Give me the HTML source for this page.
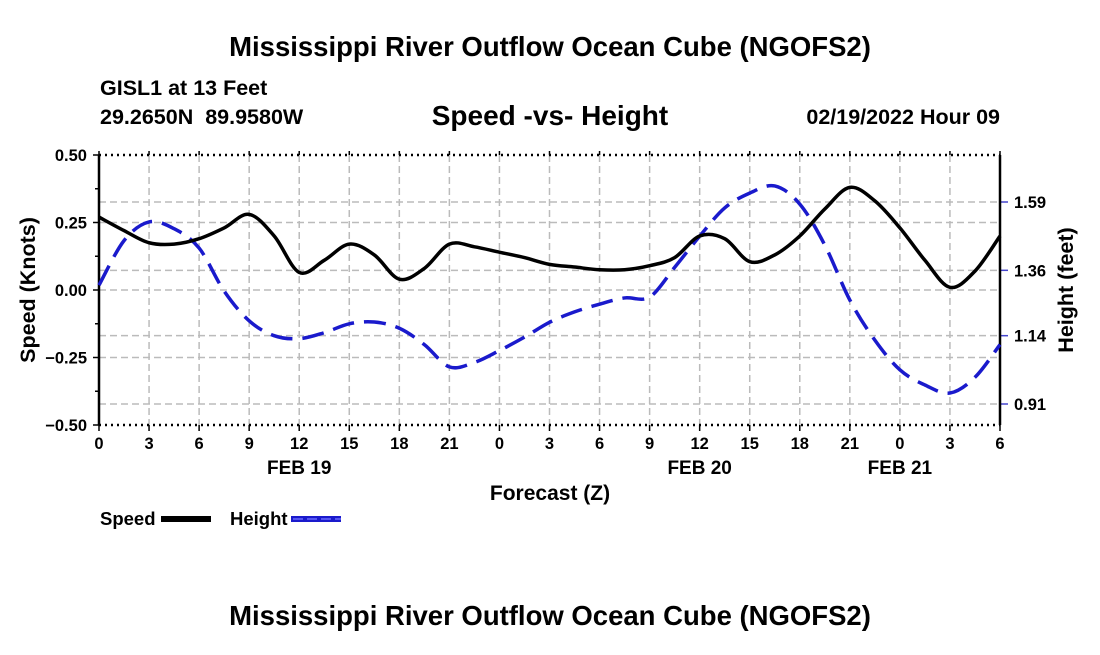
<!DOCTYPE html>
<html><head><meta charset="utf-8"><style>
html,body{margin:0;padding:0;background:#fff;}
svg text{font-family:"Liberation Sans",Arial,sans-serif;font-weight:bold;fill:#000;}
</style></head><body>
<svg id="chart" width="1100" height="650" viewBox="0 0 1100 650" xmlns="http://www.w3.org/2000/svg">
<text x="550" y="56" font-size="27.5" text-anchor="middle">Mississippi River Outflow Ocean Cube (NGOFS2)</text>
<text x="100" y="95" font-size="21.5">GISL1 at 13 Feet</text>
<text x="100" y="124" font-size="21.5" xml:space="preserve">29.2650N  89.9580W</text>
<text x="550" y="125" font-size="28" text-anchor="middle">Speed -vs- Height</text>
<text x="1000" y="124" font-size="21.5" text-anchor="end">02/19/2022 Hour 09</text>
<g id="grid"></g>
<g id="axes"></g>
<g id="series"></g>
<text transform="translate(35,290) rotate(-90)" font-size="21.5" text-anchor="middle">Speed (Knots)</text>
<text transform="translate(1073,290) rotate(-90)" font-size="21.5" text-anchor="middle">Height (feet)</text>
<text x="550" y="500" font-size="21" text-anchor="middle">Forecast (Z)</text>
<g>
<text x="100" y="525" font-size="18.5">Speed</text>
<rect x="161" y="516" width="50" height="6" fill="#000"/>
<text x="230" y="525" font-size="18.5">Height</text>
<rect x="291" y="516" width="50" height="6" fill="#1a1acc"/>
<line x1="293" y1="519" x2="341" y2="519" stroke="#6a6aff" stroke-width="1.5" stroke-dasharray="10,4"/>
</g>
<text x="550" y="625" font-size="27.5" text-anchor="middle">Mississippi River Outflow Ocean Cube (NGOFS2)</text>
</svg>
<script>
const hours = [0,1.5,3,4.5,6,7.5,9,10.5,12,13.5,15,16.5,18,19.5,21,22.5,24,25.5,27,28.5,30,31.5,33,34.5,36,37.5,39,40.5,42,43.5,45,46.5,48,49.5,51,52.5,54];
const speed = [0.27,0.22,0.175,0.17,0.19,0.23,0.28,0.2,0.065,0.11,0.17,0.13,0.04,0.08,0.17,0.16,0.14,0.12,0.095,0.085,0.075,0.075,0.09,0.12,0.2,0.19,0.105,0.13,0.2,0.3,0.38,0.33,0.23,0.11,0.01,0.07,0.2];
const height = [1.31,1.46,1.523,1.5,1.435,1.29,1.19,1.14,1.13,1.15,1.18,1.186,1.165,1.11,1.035,1.05,1.09,1.135,1.185,1.22,1.246,1.267,1.27,1.37,1.475,1.57,1.62,1.644,1.583,1.445,1.26,1.125,1.025,0.974,0.947,1.0,1.11];
const xTickLabels = ["0","3","6","9","12","15","18","21","0","3","6","9","12","15","18","21","0","3","6"];
const speedTicks = [0.5,0.25,0,-0.25,-0.5];
const speedTickLabels = ["0.50","0.25","0.00","\u22120.25","\u22120.50"];
const heightTicks = [1.59,1.36,1.14,0.91];
const dayLabels = ["FEB 19","FEB 20","FEB 21"];
const dayLabelHours = [12,36,48];

const X0=99,X1=1000,Y0=155,Y1=425;
const xs=h=>X0+(X1-X0)*h/54;
const ys=s=>Y0+(0.5-s)*(Y1-Y0);
const yh=h=>202+(1.59-h)*(404-202)/(1.59-0.91);
const NS='http://www.w3.org/2000/svg';
function mk(tag,parent,attrs){const e=document.createElementNS(NS,tag);for(const k in attrs)e.setAttribute(k,attrs[k]);parent.appendChild(e);return e;}
const grid=document.getElementById('grid'),axes=document.getElementById('axes'),series=document.getElementById('series');
xTickLabels.forEach((l,i)=>{const x=xs(i*3);
 if(i>0&&i<18){const g=mk('line',grid,{x1:x,y1:Y0,x2:x,y2:Y1,stroke:'#bbb','stroke-width':1.5,'stroke-dasharray':'7,4'});
 
 }
 const t=mk('line',axes,{x1:x,y1:Y1,x2:x,y2:Y1+6,stroke:'#000','stroke-width':1.5});
 
 
 const tt=mk('text',axes,{x:x,y:Y1+24,'font-size':16.5,'text-anchor':'middle'});tt.textContent=l;
 
 
 const t2=mk('line',axes,{x1:x,y1:Y0-4,x2:x,y2:Y0,stroke:'#000','stroke-width':1.5});
 
 
});
dayLabels.forEach((d,i)=>{const t=mk('text',axes,{x:xs(dayLabelHours[i]),y:474,'font-size':19,'text-anchor':'middle'});t.textContent=d;
 
 });
speedTicks.forEach((s,i)=>{const y=ys(s);
 if(i>0&&i<4){const g=mk('line',grid,{x1:X0,y1:y,x2:X1,y2:y,stroke:'#bbb','stroke-width':1.5,'stroke-dasharray':'7,4'});
 
 }
 const t=mk('line',axes,{x1:X0-6,y1:y,x2:X0,y2:y,stroke:'#000','stroke-width':1.5});
 
 
 const tt=mk('text',axes,{x:X0-12,y:y+6,'font-size':16.5,'text-anchor':'end'});tt.textContent=speedTickLabels[i];
 
 
});
for(let s=0.375;s>-0.5;s-=0.25){const y=ys(s);const t=mk('line',axes,{x1:X0-4,y1:y,x2:X0,y2:y,stroke:'#000','stroke-width':1.5});
 
 }
heightTicks.forEach(h=>{const y=yh(h);
 const g=mk('line',grid,{x1:X0,y1:y,x2:X1,y2:y,stroke:'#bbb','stroke-width':1.5,'stroke-dasharray':'7,4'});
 
 
 const t=mk('line',axes,{x1:X1,y1:y,x2:X1+8,y2:y,stroke:'#44c','stroke-width':1.5});
 
 
 const tt=mk('text',axes,{x:X1+14,y:y+6,'font-size':16.5});tt.textContent=h.toFixed(2);
 
 
});
[[X0,Y0,X1,Y0,'2,4'],[X0,Y1,X1,Y1,'2,4']].forEach(a=>{const l=mk('line',axes,{x1:a[0],y1:a[1],x2:a[2],y2:a[3],stroke:'#000','stroke-width':2.5,'stroke-dasharray':a[4]});
 
 });
const la=mk('line',axes,{x1:X0,y1:Y0,x2:X0,y2:Y1,stroke:'#000','stroke-width':2.5});


const ra=mk('line',axes,{x1:X1,y1:Y0,x2:X1,y2:Y1,stroke:'#000','stroke-width':2.5});


function smooth(pts){let d=`M${pts[0][0]},${pts[0][1]}`;
 for(let i=0;i<pts.length-1;i++){const p0=pts[i-1]||pts[i],p1=pts[i],p2=pts[i+1],p3=pts[i+2]||p2;
 d+=` C${p1[0]+(p2[0]-p0[0])/6},${p1[1]+(p2[1]-p0[1])/6} ${p2[0]-(p3[0]-p1[0])/6},${p2[1]-(p3[1]-p1[1])/6} ${p2[0]},${p2[1]}`;}return d;}
const hp=mk('path',series,{d:smooth(hours.map((h,i)=>[xs(h),yh(height[i])])),fill:'none',stroke:'#1a1acc','stroke-width':3.5,'stroke-dasharray':'22,10'});


const sp=mk('path',series,{d:smooth(hours.map((h,i)=>[xs(h),ys(speed[i])])),fill:'none',stroke:'#000','stroke-width':3.5});


</script>
</body></html>
